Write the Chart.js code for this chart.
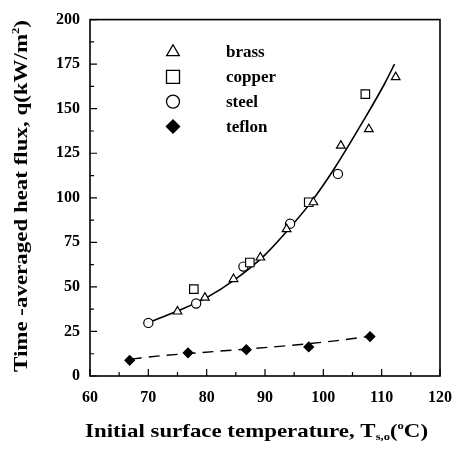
<!DOCTYPE html>
<html>
<head>
<meta charset="utf-8">
<script src="https://cdn.jsdelivr.net/npm/chart.js@4.4.1/dist/chart.umd.min.js"></script>
<style>
  html, body { margin: 0; padding: 0; background: #fff; }
</style>
</head>
<body>
<canvas id="fluxChart" width="464" height="450"></canvas>
<script>
// values
const brassX = [75, 79.7, 84.6, 89.2, 93.7, 98.3, 103, 107.8, 112.4];
const brassY = [36.2, 44, 54.4, 66.5, 82.4, 97.5, 129.3, 138.5, 167.7];
const copperX = [77.8, 87.4, 97.5, 107.2];
const copperY = [48.8, 63.7, 97.5, 158.2];
const steelX = [70, 78.2, 86.3, 94.3, 102.5];
const steelY = [29.8, 40.7, 61.4, 85.5, 113.4];
const teflonX = [66.8, 76.8, 86.8, 97.5, 108];
const teflonY = [8.8, 13, 14.8, 16.3, 22.1];

// fitted curves as drawn in the figure
const fitX = [70, 75, 80, 85, 90, 95, 98, 102, 107, 110.5, 112.2];
const fitY = [30, 36.5, 44, 54.5, 68, 86, 98, 117, 144, 164, 175];
const teflonFitX = [67, 72, 82, 92, 102, 108];
const teflonFitY = [9.5, 11.3, 13.9, 16.5, 19.7, 22.3];

const legendNames = ['brass', 'copper', 'steel', 'teflon'];
const xTicks = [60, 70, 80, 90, 100, 110, 120];
const yTicks = [0, 25, 50, 75, 100, 125, 150, 175, 200];

const serif = "'Liberation Serif', 'Times New Roman', serif";
const pts = (xs, ys) => xs.map((x, i) => ({ x: x, y: ys[i] }));

const markerStyles = [
  { pointStyle: 'triangle', radius: 5, fill: '#fff' },
  { pointStyle: 'rect', radius: 6, fill: '#fff' },
  { pointStyle: 'circle', radius: 4.6, fill: '#fff' },
  { pointStyle: 'rectRot', radius: 4.8, fill: '#000' }
];
const legendMarkers = [
  { pointStyle: 'triangle', radius: 7.3, fill: '#fff' },
  { pointStyle: 'rect', radius: 9.2, fill: '#fff' },
  { pointStyle: 'circle', radius: 6.5, fill: '#fff' },
  { pointStyle: 'rectRot', radius: 6.6, fill: '#000' }
];

function markerSet(label, xs, ys, st) {
  return {
    label: label,
    data: pts(xs, ys),
    showLine: false,
    pointStyle: st.pointStyle,
    pointRadius: st.radius,
    pointBackgroundColor: st.fill,
    pointBorderColor: '#000',
    pointBorderWidth: 1.2,
    order: 0
  };
}

// draw text runs with sub/superscripts, stretched to a given width
function drawRuns(ctx, runs, size, cx, cy, width) {
  let natural = 0;
  runs.forEach(r => {
    ctx.font = 'bold ' + (size * (r.s || 1)) + 'px ' + serif;
    r.w = ctx.measureText(r.t).width;
    natural += r.w;
  });
  const sx = width / natural;
  ctx.save();
  ctx.translate(cx - width / 2, cy);
  ctx.scale(sx, 1);
  ctx.fillStyle = '#000';
  ctx.textBaseline = 'middle';
  ctx.textAlign = 'left';
  let x = 0;
  runs.forEach(r => {
    ctx.font = 'bold ' + (size * (r.s || 1)) + 'px ' + serif;
    ctx.fillText(r.t, x, (r.dy || 0) * size);
    x += r.w;
  });
  ctx.restore();
}

const framePlugin = {
  id: 'frame',
  afterDraw(chart) {
    const ctx = chart.ctx;
    const a = chart.chartArea;
    const xs = chart.scales.x, ys = chart.scales.y;
    ctx.save();
    ctx.strokeStyle = '#000';
    ctx.lineWidth = 1.6;
    ctx.strokeRect(a.left, a.top, a.right - a.left, a.bottom - a.top);
    ctx.lineWidth = 1.2;
    ctx.beginPath();
    for (let v = xs.min; v <= xs.max; v += 5) {
      const px = xs.getPixelForValue(v);
      const len = v % 10 === 0 ? 7 : 4;
      ctx.moveTo(px, a.bottom);
      ctx.lineTo(px, a.bottom - len);
    }
    for (let v = ys.min; v <= ys.max; v += 12.5) {
      const py = ys.getPixelForValue(v);
      const len = v % 25 === 0 ? 7 : 4;
      ctx.moveTo(a.left, py);
      ctx.lineTo(a.left + len, py);
    }
    ctx.stroke();

    // legend inside the plot
    legendNames.forEach((name, i) => {
      const st = legendMarkers[i];
      const y = 52 + i * 24.8;
      ctx.fillStyle = st.fill;
      ctx.strokeStyle = '#000';
      ctx.lineWidth = 1.3;
      Chart.helpers.drawPoint(ctx, { pointStyle: st.pointStyle, radius: st.radius, rotation: 0, borderWidth: 1.3 }, 173, y);
      ctx.fillStyle = '#000';
      ctx.font = 'bold 17px ' + serif;
      ctx.textAlign = 'left';
      ctx.textBaseline = 'middle';
      ctx.fillText(name, 226, y + 1);
    });

    // axis titles
    drawRuns(ctx, [
      { t: 'Initial surface temperature, T' },
      { t: 's,o', s: 0.55, dy: 0.3 },
      { t: '(' },
      { t: 'o', s: 0.55, dy: -0.3 },
      { t: 'C)' }
    ], 19, 256.5, 432, 343);

    ctx.save();
    ctx.translate(22, 196);
    ctx.rotate(-Math.PI / 2);
    drawRuns(ctx, [
      { t: 'Time -averaged heat flux, q(kW/m' },
      { t: '2', s: 0.55, dy: -0.3 },
      { t: ')' }
    ], 19, 0, 0, 352);
    ctx.restore();
    ctx.restore();
  }
};

const ctx = document.getElementById('fluxChart');

new Chart(ctx, {
  type: 'scatter',
  data: {
    datasets: [
      markerSet(legendNames[0], brassX, brassY, markerStyles[0]),
      markerSet(legendNames[1], copperX, copperY, markerStyles[1]),
      markerSet(legendNames[2], steelX, steelY, markerStyles[2]),
      markerSet(legendNames[3], teflonX, teflonY, markerStyles[3]),
      {
        label: 'fit',
        data: pts(fitX, fitY),
        showLine: true,
        borderColor: '#000',
        borderWidth: 1.6,
        pointRadius: 0,
        cubicInterpolationMode: 'monotone',
        order: 10
      },
      {
        label: 'teflon fit',
        data: pts(teflonFitX, teflonFitY),
        showLine: true,
        borderColor: '#000',
        borderWidth: 1.4,
        borderDash: [11, 7],
        pointRadius: 0,
        cubicInterpolationMode: 'monotone',
        order: 10
      }
    ]
  },
  options: {
    responsive: false,
    animation: false,
    layout: { padding: { left: 0, right: 13, top: 12, bottom: 0 } },
    plugins: { legend: { display: false }, tooltip: { enabled: false } },
    scales: {
      x: {
        type: 'linear',
        min: 60, max: 120,
        afterFit: s => { s.height = 74; },
        afterBuildTicks: s => { s.ticks = xTicks.map(v => ({ value: v })); },
        grid: { display: false, drawTicks: false },
        border: { display: false },
        ticks: { color: '#000', padding: 12, font: { family: serif, size: 16, weight: 'bold' } }
      },
      y: {
        type: 'linear',
        min: 0, max: 200,
        afterFit: s => { s.width = 90; },
        afterBuildTicks: s => { s.ticks = yTicks.map(v => ({ value: v })); },
        grid: { display: false, drawTicks: false },
        border: { display: false },
        ticks: { color: '#000', padding: 10, font: { family: serif, size: 16, weight: 'bold' } }
      }
    }
  },
  plugins: [framePlugin]
});
</script>
</body>
</html>
